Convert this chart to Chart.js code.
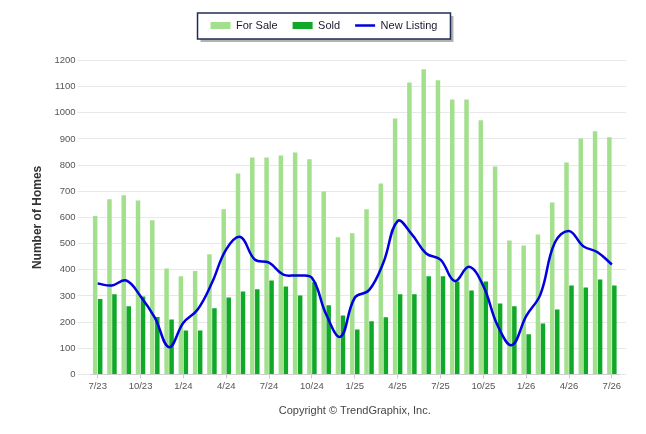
<!DOCTYPE html>
<html>
<head>
<meta charset="utf-8">
<script src="https://cdn.jsdelivr.net/npm/chart.js@4/dist/chart.umd.min.js"></script>
<style>
  html, body { margin: 0; padding: 0; background: #fff; }
</style>
</head>
<body>
<canvas id="chart-area" width="646" height="434"></canvas>
<script>
var months = [
    "7/23","8/23","9/23","10/23","11/23","12/23",
    "1/24","2/24","3/24","4/24","5/24","6/24","7/24","8/24","9/24","10/24","11/24","12/24",
    "1/25","2/25","3/25","4/25","5/25","6/25","7/25","8/25","9/25","10/25","11/25","12/25",
    "1/26","2/26","3/26","4/26","5/26","6/26","7/26"
];
var forSale = [605,669,685,665,589,405,375,395,459,631,768,829,829,837,848,822,699,524,
    539,631,730,978,1116,1166,1124,1051,1051,971,795,512,493,535,657,810,902,929,906];
var sold = [288,306,260,298,219,210,168,168,253,294,317,325,359,336,302,352,264,225,
    172,203,218,306,306,375,375,355,321,355,271,260,153,195,248,340,332,363,340];
var newListing = [347,340,359,299,217,104,197,248,350,478,525,439,427,381,378,369,229,144,
    293,322,427,586,535,462,439,357,411,338,187,112,223,306,503,548,490,467,420];
var yTicks = [0,100,200,300,400,500,600,700,800,900,1000,1100,1200];

Chart.defaults.font.family = "'Liberation Sans', Arial, sans-serif";

// box + shadow round the legend
var legendBox = {
    id: 'legendBox',
    beforeDraw: function(chart) {
        var hb = chart.legend.legendHitBoxes;
        if (!hb || !hb.length) return;
        var left = Math.min.apply(null, hb.map(function(b) { return b.left; })) - 13;
        var right = Math.max.apply(null, hb.map(function(b) { return b.left + b.width; })) + 13;
        var cy = hb[0].top + hb[0].height / 2;
        var top = Math.round(cy - 13), h = 26, w = right - left;
        var ctx = chart.ctx;
        ctx.save();
        ctx.fillStyle = 'rgba(0,0,0,0.3)';
        ctx.fillRect(left + 3, top + 3, w, h);
        ctx.fillStyle = '#fff';
        ctx.fillRect(left, top, w, h);
        ctx.strokeStyle = '#1f2d55';
        ctx.lineWidth = 1.5;
        ctx.strokeRect(left, top, w, h);
        ctx.restore();
    }
};

var config = {
    type: 'bar',
    data: {
        labels: months,
        datasets: [{
            label: 'For Sale',
            data: forSale,
            backgroundColor: '#a3e08d',
            borderWidth: 0,
            pointStyle: 'rect',
            categoryPercentage: 0.7,
            barPercentage: 0.9
        }, {
            label: 'Sold',
            data: sold,
            backgroundColor: '#10a828',
            borderWidth: 0,
            pointStyle: 'rect',
            categoryPercentage: 0.7,
            barPercentage: 0.9
        }, {
            type: 'line',
            label: 'New Listing',
            data: newListing,
            borderColor: '#0000e0',
            backgroundColor: '#0000e0',
            borderWidth: 2.5,
            pointRadius: 0,
            pointStyle: 'line',
            tension: 0.4,
            fill: false,
            order: -1
        }]
    },
    options: {
        responsive: false,
        animation: false,
        layout: { padding: { left: 22, right: 20, top: 5, bottom: 16 } },
        plugins: {
            tooltip: { enabled: false },
            legend: {
                position: 'top',
                labels: {
                    usePointStyle: true,
                    pointStyleWidth: 20,
                    boxHeight: 7,
                    padding: 15,
                    color: '#1a1a2e',
                    font: { size: 11 },
                    sort: function(a, b) { return a.datasetIndex - b.datasetIndex; }
                }
            }
        },
        scales: {
            x: {
                type: 'category',
                offset: true,
                grid: {
                    offset: false,
                    drawOnChartArea: false,
                    drawTicks: true,
                    tickLength: 4,
                    color: function(c) { return c.index % 3 === 0 ? '#c8c8c8' : 'rgba(0,0,0,0)'; }
                },
                border: { display: true, color: '#d0d0d0' },
                ticks: {
                    autoSkip: false,
                    maxRotation: 0,
                    padding: 2,
                    color: '#555',
                    font: { size: 9.5 },
                    callback: function(v, i) { return i % 3 === 0 ? months[i] : ''; }
                },
                title: {
                    display: true,
                    text: 'Copyright \u00a9 TrendGraphix, Inc.',
                    color: '#444',
                    font: { size: 11 },
                    padding: { top: 11, bottom: 0 }
                }
            },
            xTop: {
                type: 'category',
                position: 'top',
                grid: { display: false },
                border: { display: false },
                ticks: { display: false },
                title: { display: true, text: ' ', font: { size: 9.5 }, padding: { top: 0, bottom: 0 } }
            },
            y: {
                min: 0,
                max: 1200,
                afterBuildTicks: function(s) { s.ticks = yTicks.map(function(v) { return { value: v }; }); },
                grid: { color: '#e8e8e8', drawTicks: true, tickLength: 13 },
                border: { display: false },
                ticks: {
                    padding: 2,
                    color: '#555',
                    font: { size: 9.5 },
                    callback: function(v) { return String(v); }
                },
                title: {
                    display: true,
                    text: 'Number of Homes',
                    color: '#333',
                    font: { size: 12, weight: 'bold' },
                    padding: { top: 8, bottom: 8 }
                }
            },
            yR: {
                position: 'right',
                min: 0,
                max: 1200,
                afterBuildTicks: function(s) { s.ticks = yTicks.map(function(v) { return { value: v }; }); },
                grid: { color: '#e8e8e8', drawOnChartArea: false, drawTicks: true, tickLength: 7 },
                border: { display: false },
                ticks: { display: false }
            }
        }
    },
    plugins: [legendBox]
};

var ctx = document.getElementById("chart-area").getContext("2d");
var myChart = new Chart(ctx, config);
</script>
</body>
</html>
